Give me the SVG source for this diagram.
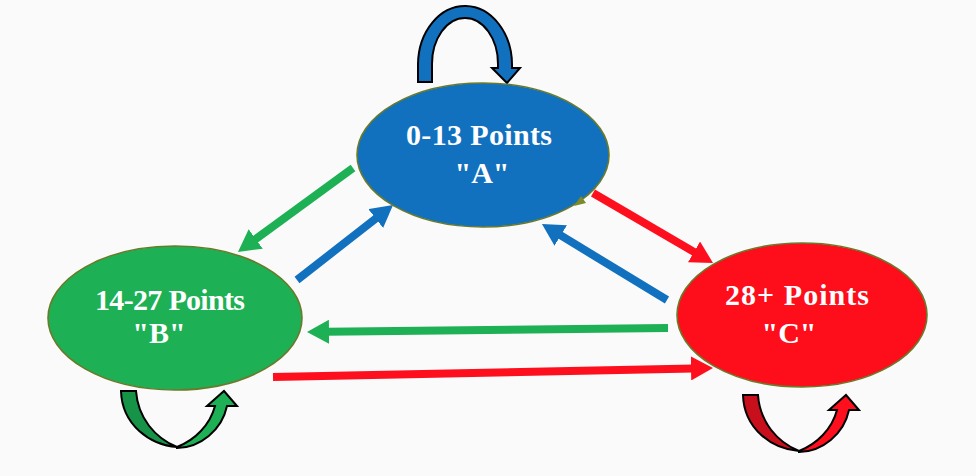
<svg xmlns="http://www.w3.org/2000/svg" width="976" height="476" viewBox="0 0 976 476">
<style>
.node{stroke:#6b7a2a;stroke-width:1.6}
.lbl{font-family:"Liberation Serif","Times New Roman",serif;font-weight:bold;font-size:30px;fill:#ffffff;text-anchor:middle}
.conn{stroke-width:8;fill:none;stroke-linecap:butt}
.loop{stroke:#000;stroke-width:2;stroke-linejoin:miter}
</style>
<defs>
<marker id="hb" viewBox="0 0 2.75 3" refX="0.3" refY="1.5" markerWidth="2.75" markerHeight="3" markerUnits="strokeWidth" orient="auto"><path d="M0,0 L2.75,1.5 L0,3 Z" fill="#1271be"/></marker>
<marker id="hg" viewBox="0 0 2.75 3" refX="0.3" refY="1.5" markerWidth="2.75" markerHeight="3" markerUnits="strokeWidth" orient="auto"><path d="M0,0 L2.75,1.5 L0,3 Z" fill="#1db054"/></marker>
<marker id="hr" viewBox="0 0 2.75 3" refX="0.3" refY="1.5" markerWidth="2.75" markerHeight="3" markerUnits="strokeWidth" orient="auto"><path d="M0,0 L2.75,1.5 L0,3 Z" fill="#fe0f1e"/></marker>
</defs>
<rect width="976" height="476" fill="#fafafa"/>
<g id="connectors">
<line class="conn" x1="353" y1="168" x2="253.8" y2="240.4" stroke="#1db054" marker-end="url(#hg)"/>
<line class="conn" x1="297" y1="280" x2="377.6" y2="217.1" stroke="#1271be" marker-end="url(#hb)"/>
<line class="conn" x1="593" y1="193" x2="696.1" y2="253.1" stroke="#fe0f1e" marker-end="url(#hr)"/>
<line class="conn" x1="667" y1="300" x2="558.7" y2="234.2" stroke="#1271be" marker-end="url(#hb)"/>
<line class="conn" x1="668" y1="328" x2="326.6" y2="331.8" stroke="#1db054" marker-end="url(#hg)"/>
<line class="conn" x1="273" y1="377" x2="693.4" y2="368.4" stroke="#fe0f1e" marker-end="url(#hr)"/>
<path id="loopA" class="loop" fill="#1271be" d="M418,82 L418,64 A47,59 0 0 1 512,66 L512,68 L520,68 L507,83 L492,68 L498,68 L498,64 A33,46 0 0 0 432,64 L432,82 Z"/>
<g id="loopB">
<path class="loop" fill="#169347" d="M121,391 L136,391 C138,418 155,438 177,447 C150,445 122,425 121,391 Z"/>
<path class="loop" fill="#1db054" d="M177,448 C200,448 222,430 227,406 L237,406 L224,391 L207,406 L215,406 C210,425 195,440 177,447 Z"/>
</g>
<g id="loopC" transform="translate(622,4)">
<path class="loop" fill="#c8101d" d="M121,391 L136,391 C138,418 155,438 177,447 C150,445 122,425 121,391 Z"/>
<path class="loop" fill="#fe0f1e" d="M177,448 C200,448 222,430 227,406 L237,406 L224,391 L207,406 L215,406 C210,425 195,440 177,447 Z"/>
</g>
</g>
<g id="nodeA">
<ellipse class="node" cx="483" cy="155" rx="126" ry="72" fill="#1271be"/>
<text class="lbl" x="479" y="145" textLength="146" lengthAdjust="spacing">0-13 Points</text>
<text class="lbl" x="482" y="183">"A"</text>
<polygon points="574,206 581,196 586,203" fill="#7b8a2a"/>
</g>
<g id="nodeB">
<ellipse class="node" cx="175" cy="318" rx="127" ry="72" fill="#1db054"/>
<text class="lbl" x="170" y="310" textLength="150" lengthAdjust="spacing">14-27 Points</text>
<text class="lbl" x="159" y="343">"B"</text>
</g>
<g id="nodeC">
<ellipse class="node" cx="802" cy="315" rx="125" ry="72" fill="#fe0d1b"/>
<text class="lbl" x="797" y="305" textLength="144" lengthAdjust="spacing">28+ Points</text>
<text class="lbl" x="789" y="343">"C"</text>
</g>
</svg>
